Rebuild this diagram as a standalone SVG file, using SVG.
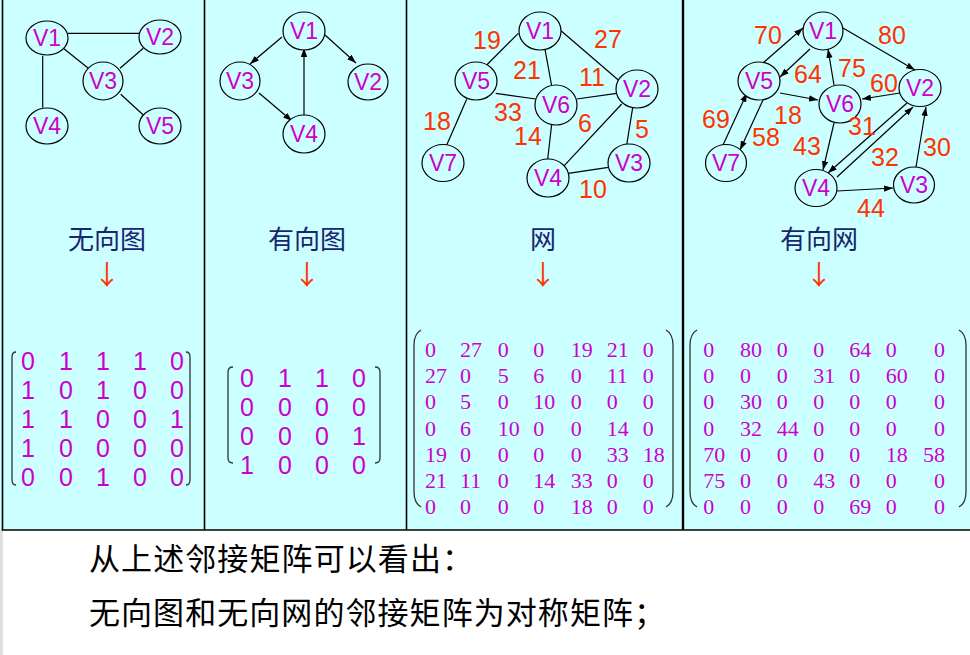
<svg xmlns="http://www.w3.org/2000/svg" width="970" height="655" viewBox="0 0 970 655">
<style>
.bg{fill:#CCFFFF}
.bd{stroke:#000;stroke-width:1.6;fill:none}
.nd ellipse{fill:#CCFFFF;stroke:#000;stroke-width:1.2}
.nd text{font-family:"Liberation Sans",Arial,sans-serif;font-size:23px;fill:#CC00CC;text-anchor:middle}
.e line{stroke:#000;stroke-width:1.2}
.ea line{stroke:#000;stroke-width:1.2;marker-end:url(#ah)}
.w{font-family:"Liberation Sans",Arial,sans-serif;font-size:25px;fill:#FF3300;text-anchor:middle}
.tt{font-family:"Noto Sans CJK SC",sans-serif;font-size:26px;fill:#1a2470;text-anchor:middle}
.dn{font-family:"Noto Sans CJK SC",sans-serif;font-size:27px;fill:#FF3300;text-anchor:middle}
.ms{font-family:"Liberation Sans",Arial,sans-serif;font-size:25px;fill:#CC00CC;text-anchor:middle}
.mt{font-family:"Liberation Serif","Times New Roman",serif;font-size:22px;fill:#CC00CC}
.br{stroke:#333;stroke-width:1.3;fill:none}
.bt{font-family:"Noto Sans CJK SC",sans-serif;font-size:31px;fill:#000}
</style>
<defs>
<marker id="ah" viewBox="0 0 10 7" markerWidth="9" markerHeight="6.5" refX="10" refY="3.5" orient="auto" markerUnits="userSpaceOnUse"><path d="M0,0 L10,3.5 L0,7 z" fill="#000"/></marker>
</defs>

<rect class="bg" x="0" y="0" width="970" height="530"/>
<rect x="0" y="530" width="3" height="125" fill="#e0e0e0"/>
<g id="frame">
<line class="bd" x1="2.5" y1="0" x2="2.5" y2="530"/>
<line class="bd" x1="1.7" y1="530" x2="970" y2="530"/>
<line class="bd" x1="204.5" y1="0" x2="204.5" y2="530"/>
<line class="bd" x1="406.5" y1="0" x2="406.5" y2="530"/>
<line class="bd" x1="683" y1="0" x2="683" y2="530" style="stroke-width:2.4"/>
</g>

<!-- connectors -->
<g id="connectors">
<g class="e">
<line x1="68" y1="33.3" x2="139.5" y2="33.3"/>
<line x1="63.3" y1="48.3" x2="88.3" y2="68.3"/>
<line x1="120" y1="68.3" x2="143.3" y2="48.3"/>
<line x1="42.7" y1="56" x2="42.7" y2="107.5"/>
<line x1="120.7" y1="94.3" x2="143.3" y2="115"/>
</g>
<g class="ea">
<line x1="282" y1="37" x2="250" y2="64"/>
<line x1="325" y1="35" x2="356" y2="63"/>
<line x1="259" y1="93" x2="292" y2="121"/>
<line x1="304" y1="115" x2="304" y2="48"/>
</g>
<g class="e">
<line x1="518.3" y1="33.3" x2="486.7" y2="65"/>
<line x1="545" y1="49.3" x2="551.7" y2="86"/>
<line x1="561" y1="30.7" x2="618.3" y2="80"/>
<line x1="495.7" y1="93.3" x2="535.7" y2="99"/>
<line x1="466.7" y1="99.3" x2="446.7" y2="145"/>
<line x1="576.7" y1="99" x2="616.7" y2="93.3"/>
<line x1="551.7" y1="124" x2="547.7" y2="159.3"/>
<line x1="621.7" y1="104" x2="563.3" y2="166.7"/>
<line x1="632.7" y1="107.3" x2="626.7" y2="145"/>
<line x1="568.3" y1="173.3" x2="608.3" y2="167.3"/>
</g>
<g class="ea">
<line x1="763" y1="63" x2="803" y2="28"/>
<line x1="810" y1="49" x2="780" y2="77"/>
<line x1="843" y1="28" x2="915" y2="70"/>
<line x1="834" y1="85" x2="828" y2="49"/>
<line x1="900" y1="93" x2="862" y2="99"/>
<line x1="780" y1="93" x2="818" y2="100"/>
<line x1="763" y1="100" x2="740" y2="150"/>
<line x1="723" y1="145" x2="747" y2="93"/>
<line x1="834" y1="123" x2="823" y2="170"/>
<line x1="907" y1="103" x2="828" y2="173"/>
<line x1="837" y1="177" x2="913" y2="107"/>
<line x1="916" y1="167" x2="926" y2="107"/>
<line x1="837" y1="191" x2="893" y2="188"/>
</g>
</g>

<!-- panel 1 nodes -->
<g id="p1-v1" class="nd"><ellipse cx="47" cy="38" rx="21" ry="17"/><text x="47" y="46">V1</text></g>
<g id="p1-v2" class="nd"><ellipse cx="160" cy="37" rx="21" ry="17"/><text x="160" y="45">V2</text></g>
<g id="p1-v3" class="nd"><ellipse cx="103" cy="81" rx="20" ry="19"/><text x="103" y="89">V3</text></g>
<g id="p1-v4" class="nd"><ellipse cx="47" cy="126" rx="21" ry="18"/><text x="47" y="134">V4</text></g>
<g id="p1-v5" class="nd"><ellipse cx="160" cy="126" rx="21" ry="18"/><text x="160" y="134">V5</text></g>

<!-- panel 2 nodes -->
<g id="p2-v1" class="nd"><ellipse cx="304" cy="31" rx="21" ry="19"/><text x="304" y="39">V1</text></g>
<g id="p2-v3" class="nd"><ellipse cx="240" cy="81" rx="20" ry="19"/><text x="240" y="89">V3</text></g>
<g id="p2-v2" class="nd"><ellipse cx="368" cy="82" rx="20" ry="18"/><text x="368" y="90">V2</text></g>
<g id="p2-v4" class="nd"><ellipse cx="304" cy="134" rx="21" ry="19"/><text x="304" y="142">V4</text></g>

<!-- panel 3 nodes -->
<g id="p3-v1" class="nd"><ellipse cx="540" cy="31" rx="21" ry="19"/><text x="540" y="39">V1</text></g>
<g id="p3-v5" class="nd"><ellipse cx="476" cy="81" rx="21" ry="19"/><text x="476" y="89">V5</text></g>
<g id="p3-v6" class="nd"><ellipse cx="556" cy="105" rx="21" ry="20"/><text x="556" y="113">V6</text></g>
<g id="p3-v2" class="nd"><ellipse cx="637" cy="89" rx="21" ry="19"/><text x="637" y="97">V2</text></g>
<g id="p3-v7" class="nd"><ellipse cx="443" cy="163" rx="21" ry="18.5"/><text x="443" y="171">V7</text></g>
<g id="p3-v4" class="nd"><ellipse cx="548" cy="178" rx="21" ry="19"/><text x="548" y="186">V4</text></g>
<g id="p3-v3" class="nd"><ellipse cx="629" cy="163" rx="21" ry="19"/><text x="629" y="171">V3</text></g>

<!-- panel 4 nodes -->
<g id="p4-v1" class="nd"><ellipse cx="823" cy="31" rx="20" ry="19"/><text x="823" y="39">V1</text></g>
<g id="p4-v5" class="nd"><ellipse cx="759" cy="81" rx="21" ry="19"/><text x="759" y="89">V5</text></g>
<g id="p4-v6" class="nd"><ellipse cx="840" cy="104" rx="21" ry="19"/><text x="840" y="112">V6</text></g>
<g id="p4-v2" class="nd"><ellipse cx="920" cy="88" rx="21" ry="18.5"/><text x="920" y="96">V2</text></g>
<g id="p4-v7" class="nd"><ellipse cx="726" cy="163" rx="20.5" ry="18.5"/><text x="726" y="171">V7</text></g>
<g id="p4-v4" class="nd"><ellipse cx="816" cy="188" rx="21" ry="18.5"/><text x="816" y="196">V4</text></g>
<g id="p4-v3" class="nd"><ellipse cx="914" cy="185" rx="20.5" ry="18"/><text x="914" y="193">V3</text></g>

<!-- weights -->
<g id="weights3">
<text class="w" x="487" y="49">19</text>
<text class="w" x="608" y="48">27</text>
<text class="w" x="527" y="79">21</text>
<text class="w" x="592" y="86">11</text>
<text class="w" x="508" y="121">33</text>
<text class="w" x="437" y="130">18</text>
<text class="w" x="528" y="145">14</text>
<text class="w" x="585" y="132">6</text>
<text class="w" x="642" y="138">5</text>
<text class="w" x="593" y="198">10</text>
</g>
<g id="weights4">
<text class="w" x="768" y="44">70</text>
<text class="w" x="892" y="44">80</text>
<text class="w" x="808" y="83">64</text>
<text class="w" x="852" y="77">75</text>
<text class="w" x="884" y="92">60</text>
<text class="w" x="716" y="128">69</text>
<text class="w" x="788" y="124">18</text>
<text class="w" x="766" y="146">58</text>
<text class="w" x="862" y="135">31</text>
<text class="w" x="807" y="155">43</text>
<text class="w" x="885" y="166">32</text>
<text class="w" x="937" y="156">30</text>
<text class="w" x="871" y="217">44</text>
</g>

<!-- titles -->
<g id="titles">
<text class="tt" x="107" y="249">无向图</text>
<text class="tt" x="307" y="249">有向图</text>
<text class="tt" x="543" y="249">网</text>
<text class="tt" x="819" y="249">有向网</text>
<text class="dn" x="107" y="285">↓</text>
<text class="dn" x="307" y="285">↓</text>
<text class="dn" x="543" y="285">↓</text>
<text class="dn" x="819" y="285">↓</text>
</g>

<!-- matrix 1 -->
<g id="matrix1">
<path class="br" d="M16,352 Q12,352 12,357 L12,480 Q12,485 16,485"/>
<path class="br" d="M186,352 Q190,352 190,357 L190,480 Q190,485 186,485"/>
<text class="ms" x="28 66 103 140 177" y="370">01110</text>
<text class="ms" x="28 66 103 140 177" y="399">10100</text>
<text class="ms" x="28 66 103 140 177" y="428">11001</text>
<text class="ms" x="28 66 103 140 177" y="456.5">10000</text>
<text class="ms" x="28 66 103 140 177" y="485.5">00100</text>
</g>

<!-- matrix 2 -->
<g id="matrix2">
<path class="br" d="M233,367 Q228,367 228,372 L228,458 Q228,463 233,463"/>
<path class="br" d="M375,367 Q380,367 380,372 L380,458 Q380,463 375,463"/>
<text class="ms" x="247 285 322 359" y="386.5">0110</text>
<text class="ms" x="247 285 322 359" y="415.5">0000</text>
<text class="ms" x="247 285 322 359" y="444.5">0001</text>
<text class="ms" x="247 285 322 359" y="473.5">1000</text>
</g>

<!-- matrix 3 -->
<g id="matrix3">
<path class="br" d="M421,330 Q414,334 414,345 L414,492 Q414,503 421,507"/>
<path class="br" d="M666,330 Q673,334 673,345 L673,492 Q673,503 666,507"/>
<text class="mt" y="357"><tspan x="425">0</tspan><tspan x="460">27</tspan><tspan x="497.7">0</tspan><tspan x="533.3">0</tspan><tspan x="570.7">19</tspan><tspan x="606.7">21</tspan><tspan x="642.7">0</tspan></text>
<text class="mt" y="383.2"><tspan x="425">27</tspan><tspan x="460">0</tspan><tspan x="497.7">5</tspan><tspan x="533.3">6</tspan><tspan x="570.7">0</tspan><tspan x="606.7">11</tspan><tspan x="642.7">0</tspan></text>
<text class="mt" y="409.4"><tspan x="425">0</tspan><tspan x="460">5</tspan><tspan x="497.7">0</tspan><tspan x="533.3">10</tspan><tspan x="570.7">0</tspan><tspan x="606.7">0</tspan><tspan x="642.7">0</tspan></text>
<text class="mt" y="435.6"><tspan x="425">0</tspan><tspan x="460">6</tspan><tspan x="497.7">10</tspan><tspan x="533.3">0</tspan><tspan x="570.7">0</tspan><tspan x="606.7">14</tspan><tspan x="642.7">0</tspan></text>
<text class="mt" y="461.8"><tspan x="425">19</tspan><tspan x="460">0</tspan><tspan x="497.7">0</tspan><tspan x="533.3">0</tspan><tspan x="570.7">0</tspan><tspan x="606.7">33</tspan><tspan x="642.7">18</tspan></text>
<text class="mt" y="488"><tspan x="425">21</tspan><tspan x="460">11</tspan><tspan x="497.7">0</tspan><tspan x="533.3">14</tspan><tspan x="570.7">33</tspan><tspan x="606.7">0</tspan><tspan x="642.7">0</tspan></text>
<text class="mt" y="514.2"><tspan x="425">0</tspan><tspan x="460">0</tspan><tspan x="497.7">0</tspan><tspan x="533.3">0</tspan><tspan x="570.7">18</tspan><tspan x="606.7">0</tspan><tspan x="642.7">0</tspan></text>
</g>

<!-- matrix 4 -->
<g id="matrix4">
<path class="br" d="M697,330 Q690,334 690,345 L690,492 Q690,503 697,507"/>
<path class="br" d="M959,330 Q966,334 966,345 L966,492 Q966,503 959,507"/>
<text class="mt" y="357"><tspan x="703.3">0</tspan><tspan x="740">80</tspan><tspan x="776.7">0</tspan><tspan x="813.3">0</tspan><tspan x="849.3">64</tspan><tspan x="885.7">0</tspan></text>
<text class="mt" y="383.2"><tspan x="703.3">0</tspan><tspan x="740">0</tspan><tspan x="776.7">0</tspan><tspan x="813.3">31</tspan><tspan x="849.3">0</tspan><tspan x="885.7">60</tspan></text>
<text class="mt" y="409.4"><tspan x="703.3">0</tspan><tspan x="740">30</tspan><tspan x="776.7">0</tspan><tspan x="813.3">0</tspan><tspan x="849.3">0</tspan><tspan x="885.7">0</tspan></text>
<text class="mt" y="435.6"><tspan x="703.3">0</tspan><tspan x="740">32</tspan><tspan x="776.7">44</tspan><tspan x="813.3">0</tspan><tspan x="849.3">0</tspan><tspan x="885.7">0</tspan></text>
<text class="mt" y="461.8"><tspan x="703.3">70</tspan><tspan x="740">0</tspan><tspan x="776.7">0</tspan><tspan x="813.3">0</tspan><tspan x="849.3">0</tspan><tspan x="885.7">18</tspan></text>
<text class="mt" y="488"><tspan x="703.3">75</tspan><tspan x="740">0</tspan><tspan x="776.7">0</tspan><tspan x="813.3">43</tspan><tspan x="849.3">0</tspan><tspan x="885.7">0</tspan></text>
<text class="mt" y="514.2"><tspan x="703.3">0</tspan><tspan x="740">0</tspan><tspan x="776.7">0</tspan><tspan x="813.3">0</tspan><tspan x="849.3">69</tspan><tspan x="885.7">0</tspan></text>
<g text-anchor="end">
<text class="mt" x="945" y="357">0</text>
<text class="mt" x="945" y="383.2">0</text>
<text class="mt" x="945" y="409.4">0</text>
<text class="mt" x="945" y="435.6">0</text>
<text class="mt" x="945" y="461.8">58</text>
<text class="mt" x="945" y="488">0</text>
<text class="mt" x="945" y="514.2">0</text>
</g>
</g>

<!-- bottom text -->
<g id="notes">
<text class="bt" x="89" y="570" textLength="384" lengthAdjust="spacing">从上述邻接矩阵可以看出：</text>
<text class="bt" x="89" y="624" textLength="576" lengthAdjust="spacing">无向图和无向网的邻接矩阵为对称矩阵；</text>
</g>
</svg>
